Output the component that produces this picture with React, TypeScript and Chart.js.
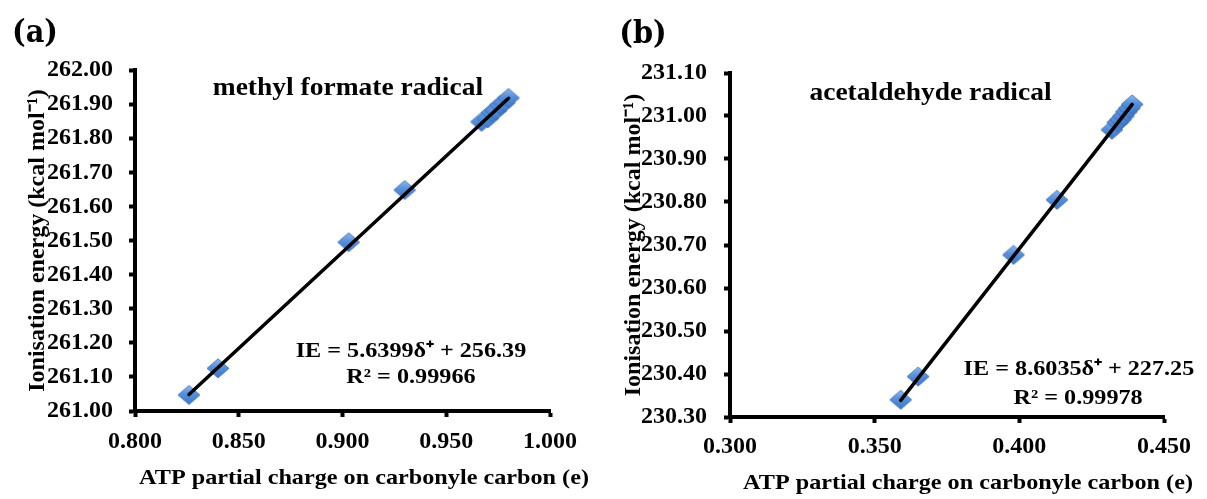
import { useEffect, useRef } from 'react';
import { Chart, registerables } from 'chart.js';

Chart.register(...registerables);

// ---------- data: panel (a) methyl formate radical ----------
const chargeA = [0.826, 0.840, 0.903, 0.930, 0.967, 0.970, 0.972, 0.974, 0.976, 0.978, 0.980];
const energyA = [261.047, 261.125, 261.495, 261.648, 261.848, 261.858, 261.875, 261.881, 261.897, 261.904, 261.918];
const slopeA = 5.6399;
const interceptA = 256.39;
const xTicksA = [0.8, 0.85, 0.9, 0.95, 1.0];
const yTicksA = [261.0, 261.1, 261.2, 261.3, 261.4, 261.5, 261.6, 261.7, 261.8, 261.9, 262.0];

// ---------- data: panel (b) acetaldehyde radical ----------
const chargeB = [0.359, 0.365, 0.398, 0.413, 0.432, 0.434, 0.435, 0.436, 0.437, 0.438, 0.439];
const energyB = [230.340, 230.394, 230.677, 230.805, 230.968, 230.985, 230.992, 231.000, 231.010, 231.018, 231.027];
const slopeB = 8.6035;
const interceptB = 227.25;
const xTicksB = [0.30, 0.35, 0.40, 0.45];
const yTicksB = [230.3, 230.4, 230.5, 230.6, 230.7, 230.8, 230.9, 231.0, 231.1];

// ---------- texts ----------
const yTitle = 'Ionisation energy (kcal mol\u207B\u00B9)';
const xTitle = 'ATP partial charge on carbonyle carbon (e)';
const nameA = 'methyl formate radical';
const nameB = 'acetaldehyde radical';
const eqA = ['IE = 5.6399\u03B4\u207A + 256.39', 'R\u00B2 = 0.99966'];
const eqB = ['IE = 8.6035\u03B4\u207A + 227.25', 'R\u00B2 = 0.99978'];

const SERIF = '"Liberation Serif", "Times New Roman", serif';
const LABEL_FONT = '"DejaVu Serif Condensed", "DejaVu Serif", serif';
const H = 499;

type Note = {
  text: string;
  x: number;
  y: number;
  size: number;
  coord: 'data' | 'px';
  family?: string;
  sx?: number;
};

function makeNotesPlugin(items: Note[]) {
  return {
    id: 'notes',
    afterDraw(chart: any) {
      const ctx = chart.ctx as CanvasRenderingContext2D;
      for (const n of items) {
        const px = n.coord === 'data' ? chart.scales.x.getPixelForValue(n.x) : n.x;
        const py = n.coord === 'data' ? chart.scales.y.getPixelForValue(n.y) : n.y;
        ctx.save();
        ctx.font = `bold ${n.size}px ${n.family ?? SERIF}`;
        ctx.fillStyle = '#000';
        ctx.textAlign = 'center';
        ctx.textBaseline = 'alphabetic';
        ctx.translate(px, py);
        ctx.scale(n.sx ?? 1, 1);
        ctx.fillText(n.text, 0, 0);
        ctx.restore();
      }
    },
  };
}

function makeDiamond(w: number, h: number): HTMLCanvasElement {
  const c = document.createElement('canvas');
  c.width = w + 2;
  c.height = h + 2;
  const ctx = c.getContext('2d')!;
  const cx = c.width / 2;
  const cy = c.height / 2;
  ctx.beginPath();
  ctx.moveTo(cx, cy - h / 2);
  ctx.lineTo(cx + w / 2, cy);
  ctx.lineTo(cx, cy + h / 2);
  ctx.lineTo(cx - w / 2, cy);
  ctx.closePath();
  const g = ctx.createLinearGradient(0, cy - h / 2, 0, cy + h / 2);
  g.addColorStop(0, '#8DB8EE');
  g.addColorStop(0.45, '#5590DC');
  g.addColorStop(1, '#3F77C6');
  ctx.fillStyle = g;
  ctx.fill();
  ctx.lineWidth = 1;
  ctx.strokeStyle = 'rgba(60,108,178,0.85)';
  ctx.stroke();
  return c;
}

type PanelSpec = {
  charge: number[];
  energy: number[];
  slope: number;
  intercept: number;
  xTicks: number[];
  yTicks: number[];
  plotLeft: number;
  plotTop: number;
  padRight: number;
  xAxisHeight: number;
  yTickPad: number;
  xTickPad: number;
  yTitlePad: number;
  notes: Note[];
};

function buildConfig(s: PanelSpec): any {
  const pts = s.charge.map((x, i) => ({ x, y: s.energy[i] }));
  const xmin = Math.min(...s.charge);
  const xmax = Math.max(...s.charge);
  const trend = [
    { x: xmin, y: s.slope * xmin + s.intercept },
    { x: xmax, y: s.slope * xmax + s.intercept },
  ];
  const diamond = makeDiamond(22, 19);
  const tickFont = { family: SERIF, size: 24, weight: 'bold' as const };
  const tickGrid = {
    drawOnChartArea: false,
    drawTicks: true,
    tickLength: 6,
    tickWidth: 4,
    tickColor: '#000',
  };
  return {
    type: 'scatter',
    data: {
      datasets: [
        {
          label: 'trend',
          data: trend,
          showLine: true,
          borderColor: '#000',
          borderWidth: 3.5,
          borderCapStyle: 'round',
          pointRadius: 0,
          pointHoverRadius: 0,
        },
        {
          label: 'data',
          data: pts,
          pointStyle: diamond,
          pointRadius: 9,
          pointHoverRadius: 9,
          backgroundColor: '#4F8AD8',
          borderColor: '#3F77C6',
        },
      ],
    },
    options: {
      animation: false,
      responsive: false,
      events: [],
      layout: { padding: { top: s.plotTop, right: s.padRight, left: 0, bottom: 0 } },
      plugins: {
        legend: { display: false },
        tooltip: { enabled: false },
      },
      scales: {
        x: {
          type: 'linear',
          min: s.xTicks[0],
          max: s.xTicks[s.xTicks.length - 1],
          afterBuildTicks: (scale: any) => {
            scale.ticks = s.xTicks.map((value) => ({ value }));
          },
          afterFit: (scale: any) => {
            scale.height = s.xAxisHeight;
          },
          ticks: {
            autoSkip: false,
            maxRotation: 0,
            color: '#000',
            font: tickFont,
            padding: s.xTickPad,
            callback: (v: any) => Number(v).toFixed(3),
          },
          grid: tickGrid,
          border: { display: true, color: '#000', width: 4 },
        },
        y: {
          type: 'linear',
          min: s.yTicks[0],
          max: s.yTicks[s.yTicks.length - 1],
          afterBuildTicks: (scale: any) => {
            scale.ticks = s.yTicks.map((value) => ({ value }));
          },
          afterFit: (scale: any) => {
            scale.width = s.plotLeft;
          },
          ticks: {
            autoSkip: false,
            color: '#000',
            font: tickFont,
            padding: s.yTickPad,
            callback: (v: any) => Number(v).toFixed(2),
          },
          grid: tickGrid,
          border: { display: true, color: '#000', width: 4 },
          title: {
            display: true,
            text: yTitle,
            color: '#000',
            font: { family: SERIF, size: 24, weight: 'bold' },
            padding: { top: s.yTitlePad, bottom: 0 },
          },
        },
      },
    },
    plugins: [makeNotesPlugin(s.notes)],
  };
}

const specA: PanelSpec = {
  charge: chargeA,
  energy: energyA,
  slope: slopeA,
  intercept: interceptA,
  xTicks: xTicksA,
  yTicks: yTicksA,
  plotLeft: 135,
  plotTop: 70,
  padRight: 50,
  xAxisHeight: 88,
  yTickPad: 16,
  xTickPad: 10,
  yTitlePad: 23,
  notes: [
    { text: '(a)', x: 35, y: 42, size: 32, coord: 'px', family: LABEL_FONT },
    { text: nameA, x: 0.9026, y: 261.927, size: 25, coord: 'data', sx: 1.1 },
    { text: eqA[0], x: 0.933, y: 261.159, size: 22, coord: 'data', sx: 1.1 },
    { text: eqA[1], x: 0.933, y: 261.081, size: 22, coord: 'data', sx: 1.1 },
    { text: xTitle, x: 364, y: 484, size: 22, coord: 'px', sx: 1.1 },
  ],
};

const specB: PanelSpec = {
  charge: chargeB,
  energy: energyB,
  slope: slopeB,
  intercept: interceptB,
  xTicks: xTicksB,
  yTicks: yTicksB,
  plotLeft: 130,
  plotTop: 73,
  padRight: 43,
  xAxisHeight: 82,
  yTickPad: 17,
  xTickPad: 9,
  yTitlePad: 19,
  notes: [
    { text: '(b)', x: 43, y: 43, size: 32, coord: 'px', family: LABEL_FONT },
    { text: nameB, x: 0.3693, y: 231.037, size: 25, coord: 'data', sx: 1.1 },
    { text: eqB[0], x: 0.4206, y: 230.398, size: 22, coord: 'data', sx: 1.1 },
    { text: eqB[1], x: 0.4203, y: 230.33, size: 22, coord: 'data', sx: 1.1 },
    { text: xTitle, x: 368, y: 489, size: 22, coord: 'px', sx: 1.1 },
  ],
};

function Panel({ left, width, spec }: { left: number; width: number; spec: PanelSpec }) {
  const ref = useRef<HTMLCanvasElement>(null);
  useEffect(() => {
    const chart = new Chart(ref.current!, buildConfig(spec));
    return () => chart.destroy();
  }, [spec]);
  return (
    <canvas
      ref={ref}
      width={width}
      height={H}
      style={{ position: 'absolute', left, top: 0, width, height: H, display: 'block' }}
    />
  );
}

export default function App() {
  return (
    <div
      style={{
        position: 'absolute',
        left: 0,
        top: 0,
        width: 1207,
        height: H,
        background: '#fff',
        overflow: 'hidden',
      }}
    >
      <Panel left={0} width={600} spec={specA} />
      <Panel left={600} width={607} spec={specB} />
    </div>
  );
}
